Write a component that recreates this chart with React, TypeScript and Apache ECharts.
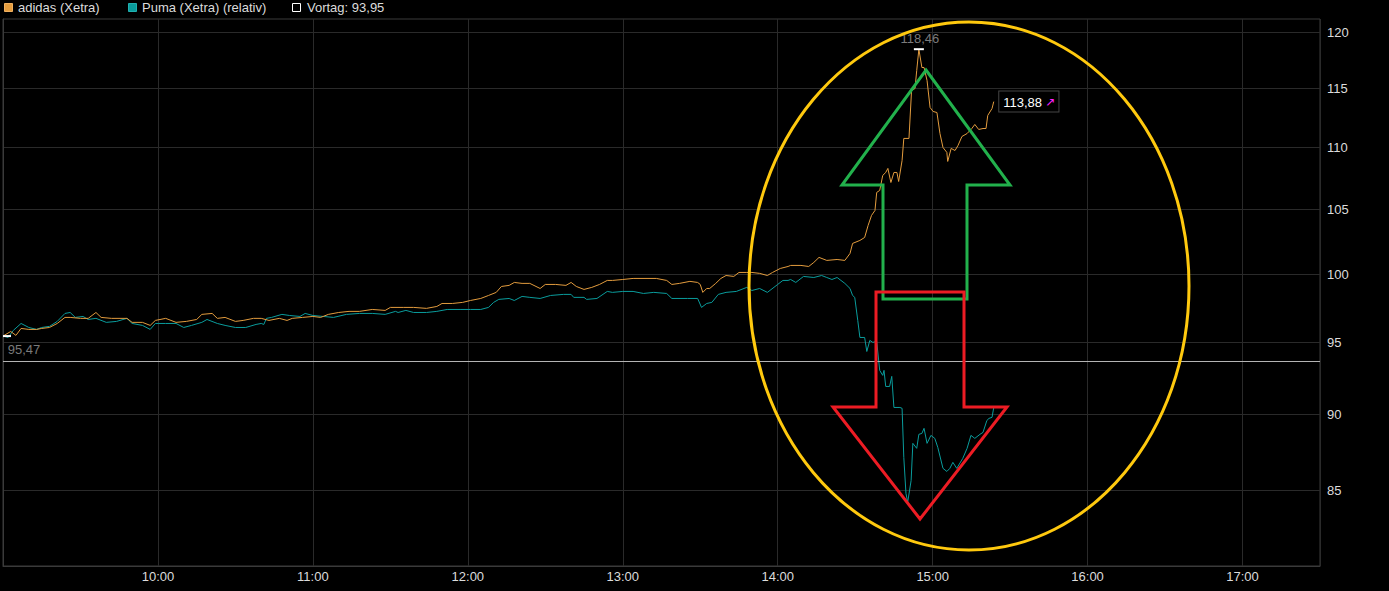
import React, { useEffect, useRef } from "react";
import * as echarts from "echarts";

// ---- data ----
const adidasTimes = [
  "09:00", "09:03", "09:05", "09:07", "09:10", "09:13", "09:15", "09:18", "09:21", "09:24",
  "09:26", "09:30", "09:33", "09:36", "09:38", "09:42", "09:48", "09:50", "09:54", "09:57",
  "09:59", "10:03", "10:07", "10:11", "10:15", "10:17", "10:21", "10:23", "10:26", "10:30",
  "10:33", "10:37", "10:40", "10:43", "10:47", "10:50", "10:52", "10:56", "11:00", "11:03",
  "11:06", "11:10", "11:14", "11:18", "11:23", "11:28", "11:30", "11:35", "11:39", "11:44",
  "11:48", "11:50", "11:54", "11:58", "12:01", "12:05", "12:08", "12:11", "12:13", "12:16",
  "12:18", "12:21", "12:24", "12:28", "12:30", "12:34", "12:38", "12:40", "12:42", "12:45",
  "12:48", "12:51", "12:54", "12:56", "13:00", "13:04", "13:09", "13:13", "13:17", "13:19",
  "13:22", "13:26", "13:29", "13:30", "13:31", "13:32:30", "13:33:40", "13:36", "13:38", "13:40",
  "13:43", "13:45", "13:48", "13:50", "13:53", "13:56", "13:58", "14:01", "14:04", "14:05",
  "14:09", "14:12", "14:14", "14:16", "14:19", "14:23", "14:26", "14:28", "14:29", "14:31:50",
  "14:33:40", "14:35:00", "14:36:20", "14:37:40", "14:38:20", "14:39:30", "14:40:40", "14:41:50", "14:42:40", "14:43:50",
  "14:45:00", "14:46:10", "14:46:50", "14:48:10", "14:48:50", "14:50:50", "14:51:50", "14:53:10", "14:53:50", "14:54:40",
  "14:55:50", "14:56:40", "14:57:50", "14:59:00", "15:00:10", "15:01:40", "15:02:50", "15:04:00", "15:05:30", "15:05:50",
  "15:07:10", "15:08:40", "15:09:50", "15:11:20", "15:13:20", "15:15:10", "15:16:20", "15:17:50", "15:19:30", "15:20:40",
  "15:21:20", "15:23:00", "15:23:40",
];
const adidasValues = [
  95.47, 95.8, 95.52, 96.02, 95.95, 95.95, 96.02, 96.09, 96.38, 96.82,
  96.82, 96.75, 96.75, 97.18, 96.82, 96.75, 96.75, 96.46, 96.46, 96.24,
  96.6, 96.75, 96.46, 96.53, 96.67, 97.04, 97.11, 96.75, 96.82, 96.53,
  96.6, 96.75, 96.75, 96.6, 96.75, 96.6, 96.75, 96.82, 96.89, 96.82,
  97.04, 97.18, 97.26, 97.26, 97.4, 97.33, 97.55, 97.55, 97.55, 97.48,
  97.62, 97.84, 97.84, 97.92, 98.06, 98.21, 98.43, 98.66, 99.1, 99.18,
  99.4, 99.33, 99.33, 98.95, 99.25, 99.25, 99.18, 99.4, 99.1, 98.88,
  99.03, 99.25, 99.55, 99.55, 99.62, 99.7, 99.7, 99.7, 99.55, 99.25,
  99.33, 99.48, 99.4, 99.25, 98.66, 98.95, 98.95, 99.33, 99.7, 99.92,
  99.85, 100.15, 100.15, 100.15, 100.08, 99.92, 100.15, 100.45, 100.6, 100.68,
  100.68, 100.6, 100.91, 101.29, 101.06, 101.13, 101.06, 101.59, 102.36, 102.59,
  102.82, 103.75, 104.54, 104.93, 106.36, 106.52, 107.73, 107.97, 108.3, 107.16,
  107.97, 107.97, 107.24, 108.95, 110.77, 110.77, 114.84, 115.01, 116.58, 118.46,
  116.84, 116.84, 115.7, 113.38, 113.04, 112.95, 111.18, 110.02, 109.61, 108.87,
  109.94, 109.77, 110.19, 110.93, 111.18, 111.6, 111.94, 111.52, 111.6, 111.6,
  112.7, 113.29, 113.88,
];

const pumaTimes = [
  "09:00", "09:02", "09:04", "09:07", "09:10", "09:13", "09:15", "09:18", "09:21", "09:24",
  "09:26", "09:28", "09:31", "09:33", "09:36", "09:40", "09:44", "09:48", "09:50", "09:54",
  "09:57", "09:59", "10:03", "10:07", "10:10", "10:13", "10:17", "10:19", "10:23", "10:26",
  "10:30", "10:34", "10:38", "10:40", "10:41", "10:42", "10:44", "10:48", "10:51", "10:55",
  "10:57", "11:00", "11:04", "11:08", "11:13", "11:18", "11:23", "11:28", "11:32", "11:33",
  "11:36", "11:39", "11:44", "11:48", "11:52", "11:57", "12:01", "12:05", "12:08", "12:10",
  "12:12", "12:16", "12:18", "12:21", "12:24", "12:28", "12:32", "12:37", "12:40", "12:41",
  "12:45", "12:46", "12:50", "12:54", "12:56", "13:00", "13:04", "13:08", "13:12", "13:17",
  "13:19", "13:25", "13:29", "13:30:30", "13:32:30", "13:34:30", "13:37", "13:40", "13:44", "13:48",
  "13:50", "13:53", "13:56", "14:00", "14:02", "14:04", "14:05", "14:07", "14:10", "14:14",
  "14:17", "14:19", "14:21", "14:23", "14:26", "14:28", "14:29", "14:29:50", "14:31:00", "14:31:50",
  "14:33:40", "14:34:30", "14:35:40", "14:36:50", "14:38:20", "14:39:30", "14:40:40", "14:41:10", "14:41:50", "14:43:20",
  "14:44:10", "14:45:00", "14:47:20", "14:48:10", "14:48:50", "14:49:40", "14:50:20", "14:51:40", "14:52:20", "14:53:50",
  "14:54:40", "14:55:50", "14:56:40", "14:57:50", "14:59:20", "15:00:50", "15:02:00", "15:04:00", "15:05:30", "15:06:40",
  "15:07:50", "15:09:20", "15:11:40", "15:13:20", "15:14:50", "15:16:20", "15:18:20", "15:19:30", "15:21:00", "15:21:50",
  "15:23:00", "15:23:40",
];
const pumaValues = [
  95.47, 95.37, 95.88, 96.38, 96.09, 95.95, 96.09, 96.17, 96.53, 97.11,
  97.18, 96.82, 96.89, 96.67, 96.75, 96.46, 96.53, 96.75, 96.38, 96.24,
  95.95, 96.38, 96.38, 96.38, 96.09, 96.24, 96.46, 96.67, 96.38, 96.24,
  96.09, 96.09, 96.31, 96.38, 96.31, 96.75, 96.82, 97.04, 96.96, 96.89,
  97.11, 96.96, 96.89, 96.82, 97.04, 97.11, 97.11, 97.04, 97.26, 97.18,
  97.33, 97.18, 97.18, 97.26, 97.4, 97.4, 97.4, 97.4, 97.55, 97.92,
  98.14, 98.21, 98.06, 98.36, 98.29, 98.21, 98.43, 98.51, 98.51, 98.29,
  98.29, 98.14, 98.21, 98.73, 98.66, 98.73, 98.73, 98.58, 98.66, 98.58,
  98.21, 98.21, 98.21, 97.55, 97.84, 97.92, 98.51, 98.66, 98.73, 99.03,
  98.8, 98.95, 98.66, 99.25, 99.55, 99.55, 99.62, 99.4, 99.85, 99.77,
  99.92, 99.77, 99.62, 99.77, 99.33, 98.95, 98.43, 98.29, 96.6, 95.37,
  95.37, 94.37, 95.16, 95.02, 95.09, 93.04, 92.69, 93.04, 91.92, 91.92,
  92.62, 90.48, 90.48, 90.42, 87.14, 84.82, 84.25, 85.65, 88.07, 87.74,
  88.67, 88.73, 89.07, 88.07, 88.6, 88.4, 87.8, 86.43, 86.23, 86.43,
  86.82, 86.43, 87.08, 87.74, 88.6, 88.4, 88.67, 88.8, 89.6, 89.74,
  89.81, 90.48,
];

const yTicks = [85, 90, 95, 100, 105, 110, 115, 120];
const hourTicks = ["10:00", "11:00", "12:00", "13:00", "14:00", "15:00", "16:00", "17:00"];
const previousClose = 93.95;
const dayStart = "09:00";
const dayEnd = "17:30";
const axisTop = 121.18;
const axisBottom = 80.31;

const seriesNames = ["adidas (Xetra)", "Puma (Xetra) (relativ)", "Vortag: 93,95"];
const colors = { adidas: "#e39c3e", puma: "#0a9c9c" };

// ---- helpers ----
const toMin = (s: string) => {
  const p = s.split(":").map(Number);
  const base = dayStart.split(":").map(Number);
  return p[0] * 60 + p[1] + (p[2] || 0) / 60 - (base[0] * 60 + base[1]);
};
const fmt = (v: number) => v.toFixed(2).replace(".", ",");
const L = Math.log;

export default function App() {
  const ref = useRef<HTMLDivElement>(null);

  useEffect(() => {
    document.body.style.margin = "0";
    document.body.style.background = "#000";
    if (!ref.current) return;
    const chart = echarts.init(ref.current, null, { renderer: "svg" });

    const adidasData = adidasTimes.map((t, i) => [toMin(t), L(adidasValues[i])]);
    const pumaData = pumaTimes.map((t, i) => [toMin(t), L(pumaValues[i])]);

    const openV = adidasValues[0];
    let hiIdx = 0;
    adidasValues.forEach((v, i) => { if (v > adidasValues[hiIdx]) hiIdx = i; });
    const hiV = adidasValues[hiIdx];
    const lastIdx = adidasValues.length - 1;
    const lastV = adidasValues[lastIdx];

    const font = "Liberation Sans, Arial, sans-serif";
    const textColor = "#dcdcdc";

    chart.setOption({
      animation: false,
      backgroundColor: "#000",
      grid: {
        left: 3, right: 69, top: 19, bottom: 25,
        show: true, borderColor: "#3a3a3a", borderWidth: 1,
      },
      xAxis: {
        type: "value",
        min: 0,
        max: toMin(dayEnd),
        interval: 60,
        axisLine: { show: true, lineStyle: { color: "#3a3a3a" } },
        axisTick: { show: false },
        splitLine: { show: true, lineStyle: { color: "#2a2a2a", width: 1 } },
        axisLabel: {
          color: textColor, fontSize: 13, fontFamily: font, margin: 4,
          formatter: (v: number) => {
            const lbl = hourTicks.find((h) => Math.abs(toMin(h) - v) < 0.01);
            return lbl || "";
          },
        },
      },
      yAxis: {
        type: "value",
        position: "right",
        min: L(axisBottom),
        max: L(axisTop),
        axisLine: { show: true, lineStyle: { color: "#3a3a3a" } },
        axisTick: { show: false, customValues: yTicks.map(L) },
        splitLine: { show: true, lineStyle: { color: "#2a2a2a", width: 1 } },
        axisLabel: {
          customValues: yTicks.map(L),
          color: textColor, fontSize: 13, fontFamily: font, margin: 7,
          formatter: (v: number) => String(Math.round(Math.exp(v))),
        },
      },
      series: [
        {
          name: seriesNames[1],
          type: "line",
          data: pumaData,
          showSymbol: false,
          symbol: "none",
          lineStyle: { color: colors.puma, width: 1 },
          z: 3,
        },
        {
          name: seriesNames[0],
          type: "line",
          data: adidasData,
          showSymbol: false,
          symbol: "none",
          lineStyle: { color: colors.adidas, width: 1 },
          z: 4,
          markLine: {
            silent: true,
            symbol: ["none", "none"],
            label: { show: false },
            lineStyle: { color: "#b4b4b4", width: 1, type: "solid" },
            data: [{ yAxis: L(previousClose) }],
          },
          markPoint: {
            silent: true,
            data: [
              {
                coord: adidasData[0], symbol: "rect", symbolSize: [8, 2], symbolOffset: [4, 0],
                itemStyle: { color: "#ffffff" }, label: { show: false },
              },
              {
                coord: adidasData[0], symbol: "rect", symbolSize: [1, 1],
                itemStyle: { color: "rgba(0,0,0,0)" },
                label: {
                  show: true, position: "inside", offset: [21, 13], formatter: fmt(openV),
                  color: "#7a7a7a", fontSize: 13, fontFamily: font,
                },
              },
              {
                coord: adidasData[hiIdx], symbol: "rect", symbolSize: [10, 2],
                itemStyle: { color: "#ffffff" }, label: { show: false },
              },
              {
                coord: adidasData[hiIdx], symbol: "rect", symbolSize: [1, 1],
                itemStyle: { color: "rgba(0,0,0,0)" },
                label: {
                  show: true, position: "inside", offset: [1, -11], formatter: fmt(hiV),
                  color: "#7a7a7a", fontSize: 13, fontFamily: font,
                },
              },
              {
                coord: adidasData[lastIdx], symbol: "rect", symbolSize: [1, 1],
                itemStyle: { color: "rgba(0,0,0,0)" },
                label: {
                  show: true, position: "right", distance: 5,
                  formatter: "{v|" + fmt(lastV) + "} {a|↗}",
                  backgroundColor: "#000", borderColor: "#444", borderWidth: 1,
                  padding: [4, 3, 3, 4],
                  rich: {
                    v: { color: "#ffffff", fontSize: 13, fontFamily: font },
                    a: { color: "#ff22ff", fontSize: 12, fontFamily: "DejaVu Sans" },
                  },
                },
              },
            ],
          },
        },
      ],
      graphic: [
        // legend
        { type: "rect", left: 4, top: 3, shape: { width: 8, height: 8 }, style: { fill: colors.adidas, stroke: "#f0b060", lineWidth: 1 } },
        { type: "text", left: 18, top: 1, style: { text: seriesNames[0], fill: textColor, font: "13px " + font } },
        { type: "rect", left: 128, top: 3, shape: { width: 8, height: 8 }, style: { fill: colors.puma, stroke: "#20b0b0", lineWidth: 1 } },
        { type: "text", left: 142, top: 1, style: { text: seriesNames[1], fill: textColor, font: "13px " + font } },
        { type: "rect", left: 292, top: 3, shape: { width: 8, height: 8 }, style: { fill: "#000", stroke: "#ffffff", lineWidth: 1 } },
        { type: "text", left: 307, top: 1, style: { text: seriesNames[2], fill: textColor, font: "13px " + font } },
        // annotations
        {
          type: "ellipse", z: 100,
          shape: { cx: 969, cy: 286, rx: 220, ry: 264 },
          style: { fill: "none", stroke: "#ffc90e", lineWidth: 3 },
        },
        {
          type: "polygon", z: 101,
          shape: { points: [[926, 70], [1010, 185], [967, 185], [967, 299], [883, 299], [883, 185], [842, 185]] },
          style: { fill: "none", stroke: "#22b14c", lineWidth: 3 },
        },
        {
          type: "polygon", z: 102,
          shape: { points: [[876, 292], [964, 292], [964, 407], [1007, 407], [920, 519], [833, 407], [876, 407]] },
          style: { fill: "none", stroke: "#ed1c24", lineWidth: 3 },
        },
      ],
    });

    return () => chart.dispose();
  }, []);

  return <div ref={ref} style={{ width: 1389, height: 591, background: "#000" }} />;
}
